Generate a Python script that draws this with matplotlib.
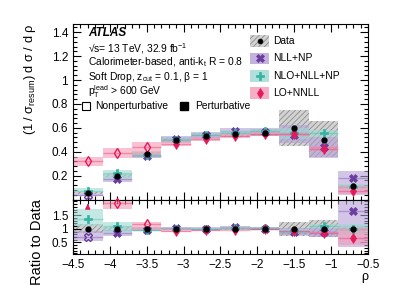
import numpy as np
import matplotlib
matplotlib.use("Agg")
import matplotlib.pyplot as plt
from matplotlib.patches import Rectangle
from matplotlib.ticker import MultipleLocator, AutoMinorLocator, FuncFormatter

plt.rcParams["font.family"] = ["Liberation Sans", "DejaVu Sans"]
plt.rcParams["mathtext.fontset"] = "custom"
plt.rcParams["mathtext.rm"] = "Liberation Sans"
plt.rcParams["mathtext.it"] = "Liberation Sans:italic"
plt.rcParams["hatch.linewidth"] = 0.6

# bins in rho
rho_edges = [-4.5, -4.1, -3.7, -3.3, -2.9, -2.5, -2.1, -1.7, -1.3, -0.9, -0.5]

# data with total uncertainty band
data = [0.055, 0.20, 0.38, 0.50, 0.535, 0.545, 0.56, 0.60, 0.50, 0.11]
data_lo = [0.046, 0.187, 0.36, 0.478, 0.512, 0.522, 0.532, 0.445, 0.355, 0.10]
data_hi = [0.064, 0.213, 0.40, 0.522, 0.558, 0.568, 0.588, 0.75, 0.66, 0.122]

# NLL+NP
nll = [0.039, 0.17, 0.365, 0.51, 0.54, 0.575, 0.565, 0.54, 0.44, 0.18]
nll_lo = [0.03, 0.145, 0.345, 0.475, 0.505, 0.54, 0.53, 0.47, 0.35, 0.035]
nll_hi = [0.05, 0.19, 0.385, 0.535, 0.565, 0.60, 0.595, 0.62, 0.52, 0.235]
nll_open = [True, False, False, False, False, False, False, False, False, False]

# NLO+NLL+NP
nlo = [0.075, 0.22, 0.37, 0.50, 0.54, 0.56, 0.57, 0.56, 0.56, 0.108]
nlo_lo = [0.06, 0.17, 0.355, 0.48, 0.52, 0.54, 0.55, 0.51, 0.52, 0.09]
nlo_hi = [0.095, 0.25, 0.405, 0.52, 0.56, 0.58, 0.59, 0.60, 0.585, 0.13]
nlo_open = [False] * 10

# LO+NNLL
lo = [0.325, 0.39, 0.44, 0.465, 0.505, 0.53, 0.55, 0.545, 0.425, 0.072]
lo_lo = [0.28, 0.345, 0.37, 0.45, 0.49, 0.515, 0.535, 0.53, 0.405, 0.045]
lo_hi = [0.36, 0.43, 0.48, 0.49, 0.52, 0.545, 0.565, 0.56, 0.445, 0.115]
lo_open = [True, True, True, False, False, False, False, False, False, False]

edges = np.array(rho_edges)
centers = 0.5 * (edges[:-1] + edges[1:])
widths = np.diff(edges)
data_a = np.array(data)

theories = [
    ("NLL+NP", nll, nll_lo, nll_hi, nll_open, "X", "#6a3d9e", "#b49fd6", 5.5),
    ("NLO+NLL+NP", nlo, nlo_lo, nlo_hi, nlo_open, "P", "#35b3a3", "#9ed9d2", 5.5),
    ("LO+NNLL", lo, lo_lo, lo_hi, lo_open, "d", "#e6195a", "#f49ab6", 5.5),
]

fig = plt.figure(figsize=(3.99, 2.86), dpi=100)
ax = fig.add_axes([0.183, 0.3024, 0.739, 0.614])
rax = fig.add_axes([0.183, 0.112, 0.739, 0.1904])

TOP = (0, 1.47)
RAT = (0.08, 2.07)


def draw_panel(a, scale, ylim):
    d = data_a / scale
    a.bar(centers, (np.array(data_hi) - np.array(data_lo)) / scale, bottom=np.array(data_lo) / scale,
          width=widths, color="#d2d2d2", edgecolor="#8c8c8c", hatch="//////", lw=0, zorder=1)
    for name, v, lo_, hi_, op, mk, mc, bc, ms in theories:
        v = np.array(v) / scale
        lo_ = np.array(lo_) / scale
        hi_ = np.array(hi_) / scale
        a.bar(centers, hi_ - lo_, bottom=lo_, width=widths, color=bc, alpha=0.6, lw=0, zorder=2)
        a.hlines(v, edges[:-1], edges[1:], color=mc, alpha=0.35, lw=1, zorder=2)
    for name, v, lo_, hi_, op, mk, mc, bc, ms in theories:
        v = np.array(v) / scale
        for i in range(len(v)):
            fc = "none" if op[i] else mc
            if v[i] > ylim[1] + 0.05:
                # off scale: arrow at the top of the panel
                a.annotate("", xy=(centers[i], ylim[1] - 0.05), xytext=(centers[i], ylim[1] - 0.35),
                           arrowprops=dict(arrowstyle="-|>", color=mc, lw=1, mutation_scale=7), zorder=6)
                continue
            a.plot(centers[i], v[i], marker=mk, ms=ms, mfc=fc, mec=mc, mew=1.0 if op[i] else 0.5,
                   ls="none", zorder=5, clip_on=False)
    a.plot(centers, d, "o", color="black", ms=3.5, zorder=7, clip_on=False)


draw_panel(ax, 1.0, TOP)
draw_panel(rax, data_a, RAT)

fmt = FuncFormatter(lambda v, p: ("%g" % v).replace("-", "\u2212"))
for a in (ax, rax):
    a.set_xlim(-4.5, -0.5)
    a.xaxis.set_major_locator(MultipleLocator(0.5))
    a.xaxis.set_minor_locator(AutoMinorLocator(5))
    a.xaxis.set_major_formatter(fmt)
    a.yaxis.set_major_formatter(fmt)
    a.tick_params(which="both", direction="in", top=True, right=True, labelsize=8.5, width=0.8)
    a.tick_params(which="major", length=6)
    a.tick_params(which="minor", length=3)
    for s in a.spines.values():
        s.set_linewidth(0.8)

ax.set_ylim(*TOP)
ax.yaxis.set_minor_locator(AutoMinorLocator(5))
ax.set_yticks([0.2, 0.4, 0.6, 0.8, 1.0, 1.2, 1.4])
ax.tick_params(labelbottom=False)
ax.set_ylabel("(1 / σ$_{\\mathregular{resum}}$) d σ / d ρ", fontsize=9.2, loc="top")
ax.yaxis.set_label_coords(-0.118, 1.0)

rax.set_ylim(*RAT)
rax.set_yticks([0.5, 1.0, 1.5])
rax.yaxis.set_minor_locator(MultipleLocator(0.1))
rax.set_ylabel("Ratio to Data", fontsize=10.5, loc="top")
rax.yaxis.set_label_coords(-0.1, 1.0)
rax.set_xlabel("ρ", fontsize=9, loc="right", labelpad=0)

# labels
tx = 0.051
fs = 7.4
ax.text(tx, 0.948, "ATLAS", transform=ax.transAxes, fontsize=8.5, fontweight="bold", style="italic", va="center")
ax.text(tx, 0.862, "√s= 13 TeV, 32.9 fb$^{\\mathregular{-1}}$", transform=ax.transAxes, fontsize=fs, va="center")
ax.text(tx, 0.78, "Calorimeter-based, anti-k$_{\\mathregular{t}}$ R = 0.8", transform=ax.transAxes, fontsize=fs, va="center")
ax.text(tx, 0.695, "Soft Drop, z$_{\\mathregular{cut}}$ = 0.1, β = 1", transform=ax.transAxes, fontsize=fs, va="center")
ax.text(tx, 0.615, "p$_{\\mathregular{T}}^{\\mathregular{lead}}$ > 600 GeV", transform=ax.transAxes, fontsize=fs, va="center")
ax.plot(0.045, 0.533, "s", ms=6, mfc="white", mec="black", mew=0.8, transform=ax.transAxes, clip_on=False)
ax.text(0.075, 0.535, "Nonperturbative", transform=ax.transAxes, fontsize=fs, va="center")
ax.plot(0.378, 0.533, "s", ms=6, mfc="black", mec="black", transform=ax.transAxes)
ax.text(0.413, 0.535, "Perturbative", transform=ax.transAxes, fontsize=fs, va="center")

# legend
legend_rows = [("Data", "o", "black", "#d2d2d2", 3.5)] + [(t[0], t[5], t[6], t[7], t[8]) for t in theories]
for i, (name, mk, mc, bc, ms) in enumerate(legend_rows):
    yc = 0.903 - i * 0.099
    if name == "Data":
        ax.add_patch(Rectangle((0.6, yc - 0.033), 0.065, 0.066, transform=ax.transAxes, facecolor=bc,
                               edgecolor="#8c8c8c", hatch="//////", lw=0, zorder=3))
    else:
        ax.add_patch(Rectangle((0.6, yc - 0.033), 0.065, 0.066, transform=ax.transAxes, facecolor=bc,
                               alpha=0.8, lw=0, zorder=3))
    ax.plot(0.6325, yc, marker=mk, ms=ms, color=mc, mec=mc, mew=0.5, transform=ax.transAxes, zorder=4)
    ax.text(0.68, yc, name, transform=ax.transAxes, fontsize=fs, va="center")

fig.savefig("out.png", dpi=100)
